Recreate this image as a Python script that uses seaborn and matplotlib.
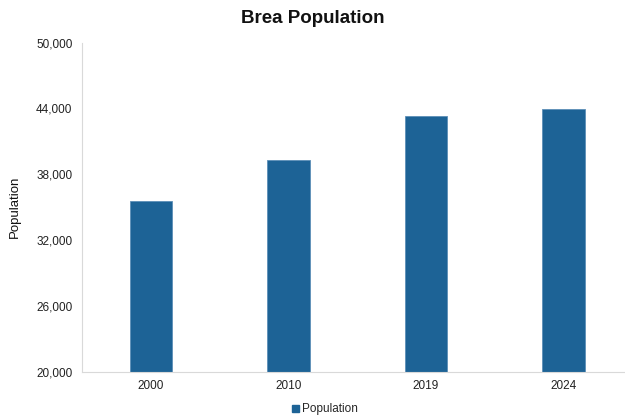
import matplotlib
matplotlib.use("Agg")
import matplotlib.pyplot as plt
import seaborn as sns
import pandas as pd
from matplotlib.patches import Patch
from matplotlib.ticker import FuncFormatter

years = ["2000", "2010", "2019", "2024"]
population = [35600, 39300, 43280, 43920]
yticks = [20000, 26000, 32000, 38000, 44000, 50000]

df = pd.DataFrame({"Year": years, "Population": population})

sns.set_style("white")
plt.rcParams["font.family"] = ["Liberation Sans", "DejaVu Sans"]

fig = plt.figure(figsize=(6.25, 4.17), dpi=100)
ax = fig.add_axes([0.1315, 0.108, 0.88, 0.79])

color = "#1d6396"
sns.barplot(data=df, x="Year", y="Population", color=color, width=0.31,
            saturation=1, ax=ax, edgecolor="#5d8fb8", linewidth=0.6)

ax.set_ylim(20000, 50000)
ax.set_yticks(yticks)
ax.yaxis.set_major_formatter(FuncFormatter(lambda v, p: f"{int(v):,}"))
ax.tick_params(axis="both", labelsize=8.5, length=0, colors="#222222")
ax.tick_params(axis="x", pad=6)
ax.tick_params(axis="y", pad=7)
ax.set_xlabel("")
ax.set_ylabel("Population", fontsize=9.5, labelpad=11, color="#111111")

for s in ["top", "right"]:
    ax.spines[s].set_visible(False)
for s in ["left", "bottom"]:
    ax.spines[s].set_color("#d9d9d9")
    ax.spines[s].set_linewidth(0.8)

fig.text(0.5, 0.955, "Brea Population", ha="center", va="center",
         fontsize=13.5, fontweight="bold", color="#111111")

handles = [Patch(facecolor=color, edgecolor=color, label="Population")]
fig.legend(handles=handles, loc="center", bbox_to_anchor=(0.52, 0.018),
           frameon=False, fontsize=8.5, handlelength=0.6, handleheight=0.6,
           handletextpad=0.3)

fig.savefig("out.png", dpi=100)
